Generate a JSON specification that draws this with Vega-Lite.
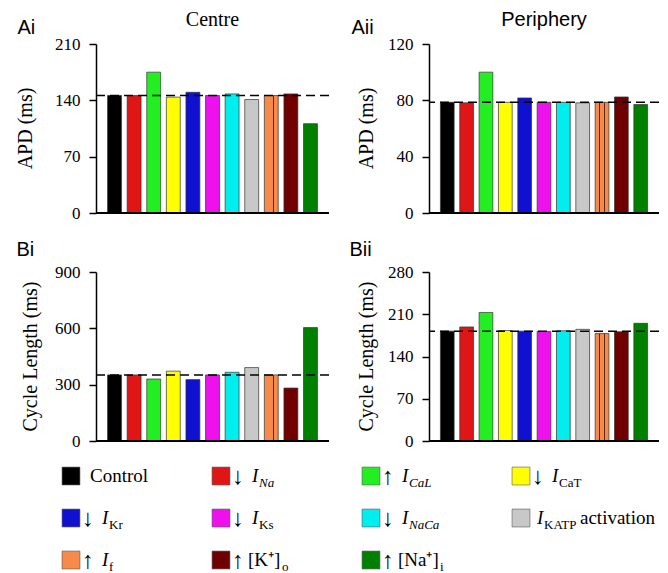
{
  "$schema": "https://vega.github.io/schema/vega-lite/v6.json",
  "padding": {"left": 15, "top": 10, "right": 5, "bottom": 0},
  "background": "white",
  "config": {
    "view": {"stroke": null},
    "axis": {"grid": false, "domainColor": "black", "tickColor": "black", "labelColor": "black", "titleColor": "black", "labelFont": "Liberation Serif", "labelFontSize": 17, "titleFont": "Liberation Serif", "titleFontSize": 20, "titleFontWeight": "normal"},
    "title": {"color": "black"}
  },
  "datasets": {
    "bars": [
      {"panel": "Ai", "cond": "Control", "v": 146}, {"panel": "Ai", "cond": "Na", "v": 146}, {"panel": "Ai", "cond": "CaL", "v": 175}, {"panel": "Ai", "cond": "CaT", "v": 144}, {"panel": "Ai", "cond": "Kr", "v": 150}, {"panel": "Ai", "cond": "Ks", "v": 146}, {"panel": "Ai", "cond": "NaCa", "v": 148}, {"panel": "Ai", "cond": "KATP", "v": 141}, {"panel": "Ai", "cond": "If", "v": 146}, {"panel": "Ai", "cond": "Ko", "v": 148}, {"panel": "Ai", "cond": "Nai", "v": 111},
      {"panel": "Aii", "cond": "Control", "v": 78.6}, {"panel": "Aii", "cond": "Na", "v": 78.2}, {"panel": "Aii", "cond": "CaL", "v": 100}, {"panel": "Aii", "cond": "CaT", "v": 78.6}, {"panel": "Aii", "cond": "Kr", "v": 81.7}, {"panel": "Aii", "cond": "Ks", "v": 78.6}, {"panel": "Aii", "cond": "NaCa", "v": 78.6}, {"panel": "Aii", "cond": "KATP", "v": 78.2}, {"panel": "Aii", "cond": "If", "v": 78.6}, {"panel": "Aii", "cond": "Ko", "v": 82.4}, {"panel": "Aii", "cond": "Nai", "v": 77},
      {"panel": "Bi", "cond": "Control", "v": 352}, {"panel": "Bi", "cond": "Na", "v": 352}, {"panel": "Bi", "cond": "CaL", "v": 330}, {"panel": "Bi", "cond": "CaT", "v": 372}, {"panel": "Bi", "cond": "Kr", "v": 327}, {"panel": "Bi", "cond": "Ks", "v": 352}, {"panel": "Bi", "cond": "NaCa", "v": 366}, {"panel": "Bi", "cond": "KATP", "v": 391}, {"panel": "Bi", "cond": "If", "v": 352}, {"panel": "Bi", "cond": "Ko", "v": 282}, {"panel": "Bi", "cond": "Nai", "v": 604},
      {"panel": "Bii", "cond": "Control", "v": 182}, {"panel": "Bii", "cond": "Na", "v": 189}, {"panel": "Bii", "cond": "CaL", "v": 213}, {"panel": "Bii", "cond": "CaT", "v": 183}, {"panel": "Bii", "cond": "Kr", "v": 182}, {"panel": "Bii", "cond": "Ks", "v": 181.5}, {"panel": "Bii", "cond": "NaCa", "v": 182.6}, {"panel": "Bii", "cond": "KATP", "v": 185}, {"panel": "Bii", "cond": "If", "v": 178}, {"panel": "Bii", "cond": "Ko", "v": 181}, {"panel": "Bii", "cond": "Nai", "v": 195}
    ],
    "legend": [
      {"cond": "Control", "col": 0, "row": 0, "kind": "plain", "arrow": "", "main": "Control", "sub": ""},
      {"cond": "Na", "col": 1, "row": 0, "kind": "Iital", "arrow": "↓", "main": "I", "sub": "Na"},
      {"cond": "CaL", "col": 2, "row": 0, "kind": "Iital", "arrow": "↑", "main": "I", "sub": "CaL"},
      {"cond": "CaT", "col": 3, "row": 0, "kind": "Irom", "arrow": "↓", "main": "I", "sub": "CaT"},
      {"cond": "Kr", "col": 0, "row": 1, "kind": "Irom", "arrow": "↓", "main": "I", "sub": "Kr"},
      {"cond": "Ks", "col": 1, "row": 1, "kind": "Irom", "arrow": "↓", "main": "I", "sub": "Ks"},
      {"cond": "NaCa", "col": 2, "row": 1, "kind": "Iital", "arrow": "↓", "main": "I", "sub": "NaCa"},
      {"cond": "KATP", "col": 3, "row": 1, "kind": "katp", "arrow": "", "main": "I", "sub": "KATP", "suffix": "activation"},
      {"cond": "If", "col": 0, "row": 2, "kind": "Irom", "arrow": "↑", "main": "I", "sub": "f"},
      {"cond": "Ko", "col": 1, "row": 2, "kind": "K", "arrow": "↑", "main": "[K⁺]", "sub": "o"},
      {"cond": "Nai", "col": 2, "row": 2, "kind": "Na", "arrow": "↑", "main": "[Na⁺]", "sub": "i"}
    ]
  },
  "columns": 2,
  "bounds": "flush",
  "spacing": {"row": 59, "column": 100},
  "concat": [
    {
      "width": 233, "height": 169,
      "data": {"name": "bars"},
      "transform": [{"filter": "datum.panel == 'Ai'"}],
      "title": {"text": "Centre", "font": "Liberation Serif", "fontSize": 20, "fontWeight": "normal", "anchor": "middle", "baseline": "alphabetic", "offset": -29},
      "layer": [
        {
          "mark": {"type": "bar", "stroke": "#333", "strokeWidth": 0.7},
          "encoding": {
            "x": {"field": "cond", "type": "nominal", "sort": ["Control", "Na", "CaL", "CaT", "Kr", "Ks", "NaCa", "KATP", "If", "Ko", "Nai"], "scale": {"paddingInner": 0.29, "paddingOuter": 0.59},
              "axis": {"orient": "top", "title": "Ai", "labels": false, "ticks": false, "domain": false, "titleFont": "Liberation Sans", "titleFontSize": 20, "titleFontWeight": "normal", "titleX": -79, "titleY": -11, "titleAlign": "left", "titleBaseline": "alphabetic", "titleAngle": 0}},
            "y": {"field": "v", "type": "quantitative", "title": "APD (ms)", "scale": {"domain": [0, 210], "nice": false},
              "axis": {"values": [0, 70, 140, 210], "labelFont": "Liberation Serif", "labelFontSize": 17, "labelPadding": 9, "labelFlush": false, "tickSize": 7, "tickWidth": 1.5, "domainWidth": 1.5, "titleX": -71, "titleY": 84, "titleBaseline": "middle", "titleAngle": 270}},
            "color": {
              "condition": [
                {"test": "datum.cond == 'If'", "value": {"gradient": "linear", "x1": 0, "y1": 0, "x2": 1, "y2": 0, "stops": [{"offset": 0, "color": "#f58a4a"}, {"offset": 0.3, "color": "#f58a4a"}, {"offset": 0.3, "color": "#5a2a10"}, {"offset": 0.37, "color": "#5a2a10"}, {"offset": 0.37, "color": "#f58a4a"}, {"offset": 0.63, "color": "#f58a4a"}, {"offset": 0.63, "color": "#5a2a10"}, {"offset": 0.7, "color": "#5a2a10"}, {"offset": 0.7, "color": "#f58a4a"}, {"offset": 1, "color": "#f58a4a"}]}}
              ],
              "field": "cond", "type": "nominal", "scale": {"domain": ["Control", "Na", "CaL", "CaT", "Kr", "Ks", "NaCa", "KATP", "If", "Ko", "Nai"], "range": ["#000000", "#e01515", "#22ee22", "#ffff00", "#1010d0", "#ee11ee", "#00eeee", "#c8c8c8", "#f58a4a", "#700000", "#008000"]}, "legend": null}
          }
        },
        {
          "transform": [{"filter": "datum.cond == 'Control'"}],
          "mark": {"type": "rule", "color": "black", "strokeWidth": 1.5, "strokeDash": [9, 5]},
          "encoding": {"y": {"field": "v", "type": "quantitative", "title": "APD (ms)"}}
        },
        {
          "mark": {"type": "rule", "color": "black", "strokeWidth": 2},
          "encoding": {"y": {"datum": 0}}
        }
      ]
    },
    {
      "width": 230, "height": 169,
      "data": {"name": "bars"},
      "transform": [{"filter": "datum.panel == 'Aii'"}],
      "title": {"text": "Periphery", "font": "Liberation Sans", "fontSize": 20, "fontWeight": "normal", "anchor": "middle", "baseline": "alphabetic", "offset": -29},
      "layer": [
        {
          "mark": {"type": "bar", "stroke": "#333", "strokeWidth": 0.7},
          "encoding": {
            "x": {"field": "cond", "type": "nominal", "sort": ["Control", "Na", "CaL", "CaT", "Kr", "Ks", "NaCa", "KATP", "If", "Ko", "Nai"], "scale": {"paddingInner": 0.29, "paddingOuter": 0.59},
              "axis": {"orient": "top", "title": "Aii", "labels": false, "ticks": false, "domain": false, "titleFont": "Liberation Sans", "titleFontSize": 20, "titleFontWeight": "normal", "titleX": -78, "titleY": -11, "titleAlign": "left", "titleBaseline": "alphabetic", "titleAngle": 0}},
            "y": {"field": "v", "type": "quantitative", "title": "APD (ms)", "scale": {"domain": [0, 120], "nice": false},
              "axis": {"values": [0, 40, 80, 120], "labelFont": "Liberation Serif", "labelFontSize": 17, "labelPadding": 9, "labelFlush": false, "tickSize": 7, "tickWidth": 1.5, "domainWidth": 1.5, "titleX": -63, "titleY": 84, "titleBaseline": "middle", "titleAngle": 270}},
            "color": {
              "condition": [
                {"test": "datum.cond == 'If'", "value": {"gradient": "linear", "x1": 0, "y1": 0, "x2": 1, "y2": 0, "stops": [{"offset": 0, "color": "#f58a4a"}, {"offset": 0.3, "color": "#f58a4a"}, {"offset": 0.3, "color": "#5a2a10"}, {"offset": 0.37, "color": "#5a2a10"}, {"offset": 0.37, "color": "#f58a4a"}, {"offset": 0.63, "color": "#f58a4a"}, {"offset": 0.63, "color": "#5a2a10"}, {"offset": 0.7, "color": "#5a2a10"}, {"offset": 0.7, "color": "#f58a4a"}, {"offset": 1, "color": "#f58a4a"}]}}
              ],
              "field": "cond", "type": "nominal", "scale": {"domain": ["Control", "Na", "CaL", "CaT", "Kr", "Ks", "NaCa", "KATP", "If", "Ko", "Nai"], "range": ["#000000", "#e01515", "#22ee22", "#ffff00", "#1010d0", "#ee11ee", "#00eeee", "#c8c8c8", "#f58a4a", "#700000", "#008000"]}, "legend": null}
          }
        },
        {
          "transform": [{"filter": "datum.cond == 'Control'"}],
          "mark": {"type": "rule", "color": "black", "strokeWidth": 1.5, "strokeDash": [9, 5]},
          "encoding": {"y": {"field": "v", "type": "quantitative", "title": "APD (ms)"}}
        },
        {
          "mark": {"type": "rule", "color": "black", "strokeWidth": 2},
          "encoding": {"y": {"datum": 0}}
        }
      ]
    },
    {
      "width": 233, "height": 169,
      "data": {"name": "bars"},
      "transform": [{"filter": "datum.panel == 'Bi'"}],
      "layer": [
        {
          "mark": {"type": "bar", "stroke": "#333", "strokeWidth": 0.7},
          "encoding": {
            "x": {"field": "cond", "type": "nominal", "sort": ["Control", "Na", "CaL", "CaT", "Kr", "Ks", "NaCa", "KATP", "If", "Ko", "Nai"], "scale": {"paddingInner": 0.29, "paddingOuter": 0.59},
              "axis": {"orient": "top", "title": "Bi", "labels": false, "ticks": false, "domain": false, "titleFont": "Liberation Sans", "titleFontSize": 20, "titleFontWeight": "normal", "titleX": -80, "titleY": -17, "titleAlign": "left", "titleBaseline": "alphabetic", "titleAngle": 0}},
            "y": {"field": "v", "type": "quantitative", "title": "Cycle Length (ms)", "scale": {"domain": [0, 900], "nice": false},
              "axis": {"values": [0, 300, 600, 900], "labelFont": "Liberation Serif", "labelFontSize": 17, "labelPadding": 9, "labelFlush": false, "tickSize": 7, "tickWidth": 1.5, "domainWidth": 1.5, "titleX": -66, "titleY": 84, "titleBaseline": "middle", "titleAngle": 270}},
            "color": {
              "condition": [
                {"test": "datum.cond == 'If'", "value": {"gradient": "linear", "x1": 0, "y1": 0, "x2": 1, "y2": 0, "stops": [{"offset": 0, "color": "#f58a4a"}, {"offset": 0.3, "color": "#f58a4a"}, {"offset": 0.3, "color": "#5a2a10"}, {"offset": 0.37, "color": "#5a2a10"}, {"offset": 0.37, "color": "#f58a4a"}, {"offset": 0.63, "color": "#f58a4a"}, {"offset": 0.63, "color": "#5a2a10"}, {"offset": 0.7, "color": "#5a2a10"}, {"offset": 0.7, "color": "#f58a4a"}, {"offset": 1, "color": "#f58a4a"}]}}
              ],
              "field": "cond", "type": "nominal", "scale": {"domain": ["Control", "Na", "CaL", "CaT", "Kr", "Ks", "NaCa", "KATP", "If", "Ko", "Nai"], "range": ["#000000", "#e01515", "#22ee22", "#ffff00", "#1010d0", "#ee11ee", "#00eeee", "#c8c8c8", "#f58a4a", "#700000", "#008000"]}, "legend": null}
          }
        },
        {
          "transform": [{"filter": "datum.cond == 'Control'"}],
          "mark": {"type": "rule", "color": "black", "strokeWidth": 1.5, "strokeDash": [9, 5]},
          "encoding": {"y": {"field": "v", "type": "quantitative", "title": "Cycle Length (ms)"}}
        },
        {
          "mark": {"type": "rule", "color": "black", "strokeWidth": 2},
          "encoding": {"y": {"datum": 0}}
        }
      ]
    },
    {
      "width": 230, "height": 169,
      "data": {"name": "bars"},
      "transform": [{"filter": "datum.panel == 'Bii'"}],
      "layer": [
        {
          "mark": {"type": "bar", "stroke": "#333", "strokeWidth": 0.7},
          "encoding": {
            "x": {"field": "cond", "type": "nominal", "sort": ["Control", "Na", "CaL", "CaT", "Kr", "Ks", "NaCa", "KATP", "If", "Ko", "Nai"], "scale": {"paddingInner": 0.29, "paddingOuter": 0.59},
              "axis": {"orient": "top", "title": "Bii", "labels": false, "ticks": false, "domain": false, "titleFont": "Liberation Sans", "titleFontSize": 20, "titleFontWeight": "normal", "titleX": -80, "titleY": -17, "titleAlign": "left", "titleBaseline": "alphabetic", "titleAngle": 0}},
            "y": {"field": "v", "type": "quantitative", "title": "Cycle Length (ms)", "scale": {"domain": [0, 280], "nice": false},
              "axis": {"values": [0, 70, 140, 210, 280], "labelFont": "Liberation Serif", "labelFontSize": 17, "labelPadding": 9, "labelFlush": false, "tickSize": 7, "tickWidth": 1.5, "domainWidth": 1.5, "titleX": -63, "titleY": 84, "titleBaseline": "middle", "titleAngle": 270}},
            "color": {
              "condition": [
                {"test": "datum.cond == 'If'", "value": {"gradient": "linear", "x1": 0, "y1": 0, "x2": 1, "y2": 0, "stops": [{"offset": 0, "color": "#f58a4a"}, {"offset": 0.3, "color": "#f58a4a"}, {"offset": 0.3, "color": "#5a2a10"}, {"offset": 0.37, "color": "#5a2a10"}, {"offset": 0.37, "color": "#f58a4a"}, {"offset": 0.63, "color": "#f58a4a"}, {"offset": 0.63, "color": "#5a2a10"}, {"offset": 0.7, "color": "#5a2a10"}, {"offset": 0.7, "color": "#f58a4a"}, {"offset": 1, "color": "#f58a4a"}]}}
              ],
              "field": "cond", "type": "nominal", "scale": {"domain": ["Control", "Na", "CaL", "CaT", "Kr", "Ks", "NaCa", "KATP", "If", "Ko", "Nai"], "range": ["#000000", "#e01515", "#22ee22", "#ffff00", "#1010d0", "#ee11ee", "#00eeee", "#c8c8c8", "#f58a4a", "#700000", "#008000"]}, "legend": null}
          }
        },
        {
          "transform": [{"filter": "datum.cond == 'Control'"}],
          "mark": {"type": "rule", "color": "black", "strokeWidth": 1.5, "strokeDash": [9, 5]},
          "encoding": {"y": {"field": "v", "type": "quantitative", "title": "Cycle Length (ms)"}}
        },
        {
          "mark": {"type": "rule", "color": "black", "strokeWidth": 2},
          "encoding": {"y": {"datum": 0}}
        }
      ]
    },
    {
      "width": 233, "height": 60,
      "data": {"name": "legend"},
      "encoding": {
        "x": {"field": "col", "type": "quantitative", "scale": {"domain": [0.1667, 1.72], "zero": false, "nice": false}, "axis": null},
        "y": {"field": "row", "type": "quantitative", "scale": {"domain": [0.571, 2.0], "zero": false, "nice": false, "reverse": true}, "axis": null}
      },
      "layer": [
        {
          "mark": {"type": "square", "size": 320, "filled": true, "opacity": 1, "stroke": "#555", "strokeWidth": 0.6},
          "encoding": {"color": {"field": "cond", "type": "nominal", "scale": {"domain": ["Control", "Na", "CaL", "CaT", "Kr", "Ks", "NaCa", "KATP", "If", "Ko", "Nai"], "range": ["#000000", "#e01515", "#22ee22", "#ffff00", "#1010d0", "#ee11ee", "#00eeee", "#c8c8c8", "#f58a4a", "#700000", "#008000"]}, "legend": null}}
        },
        {
          "transform": [{"filter": "datum.kind == 'plain'"}],
          "mark": {"type": "text", "align": "left", "baseline": "middle", "dx": 19, "font": "Liberation Serif", "fontSize": 19, "color": "black"},
          "encoding": {"text": {"field": "main"}}
        },
        {
          "transform": [{"filter": "datum.arrow != ''"}],
          "mark": {"type": "text", "align": "left", "baseline": "middle", "dx": 11, "dy": 1, "font": "Liberation Serif", "fontSize": 24, "color": "black"},
          "encoding": {"text": {"field": "arrow"}}
        },
        {
          "transform": [{"filter": "datum.kind == 'Iital' || datum.kind == 'Irom'"}],
          "mark": {"type": "text", "align": "left", "baseline": "middle", "dx": 31, "font": "Liberation Serif", "fontSize": 19, "fontStyle": "italic", "color": "black"},
          "encoding": {"text": {"field": "main"}}
        },
        {
          "transform": [{"filter": "datum.kind == 'Iital'"}],
          "mark": {"type": "text", "align": "left", "baseline": "middle", "dx": 38, "dy": 7, "font": "Liberation Serif", "fontSize": 13, "fontStyle": "italic", "color": "black"},
          "encoding": {"text": {"field": "sub"}}
        },
        {
          "transform": [{"filter": "datum.kind == 'Irom'"}],
          "mark": {"type": "text", "align": "left", "baseline": "middle", "dx": 38, "dy": 7, "font": "Liberation Serif", "fontSize": 13, "color": "black"},
          "encoding": {"text": {"field": "sub"}}
        },
        {
          "transform": [{"filter": "datum.kind == 'katp'"}],
          "mark": {"type": "text", "align": "left", "baseline": "middle", "dx": 16, "font": "Liberation Serif", "fontSize": 19, "fontStyle": "italic", "color": "black"},
          "encoding": {"text": {"field": "main"}}
        },
        {
          "transform": [{"filter": "datum.kind == 'katp'"}],
          "mark": {"type": "text", "align": "left", "baseline": "middle", "dx": 23, "dy": 7, "font": "Liberation Serif", "fontSize": 13, "color": "black"},
          "encoding": {"text": {"field": "sub"}}
        },
        {
          "transform": [{"filter": "datum.kind == 'katp'"}],
          "mark": {"type": "text", "align": "left", "baseline": "middle", "dx": 59, "font": "Liberation Serif", "fontSize": 19, "color": "black"},
          "encoding": {"text": {"field": "suffix"}}
        },
        {
          "transform": [{"filter": "datum.kind == 'K' || datum.kind == 'Na'"}],
          "mark": {"type": "text", "align": "left", "baseline": "middle", "dx": 27, "font": "Liberation Serif", "fontSize": 19, "color": "black"},
          "encoding": {"text": {"field": "main"}}
        },
        {
          "transform": [{"filter": "datum.kind == 'K'"}],
          "mark": {"type": "text", "align": "left", "baseline": "middle", "dx": 61, "dy": 7, "font": "Liberation Serif", "fontSize": 13, "color": "black"},
          "encoding": {"text": {"field": "sub"}}
        },
        {
          "transform": [{"filter": "datum.kind == 'Na'"}],
          "mark": {"type": "text", "align": "left", "baseline": "middle", "dx": 69, "dy": 7, "font": "Liberation Serif", "fontSize": 13, "color": "black"},
          "encoding": {"text": {"field": "sub"}}
        }
      ]
    }
  ]
}
